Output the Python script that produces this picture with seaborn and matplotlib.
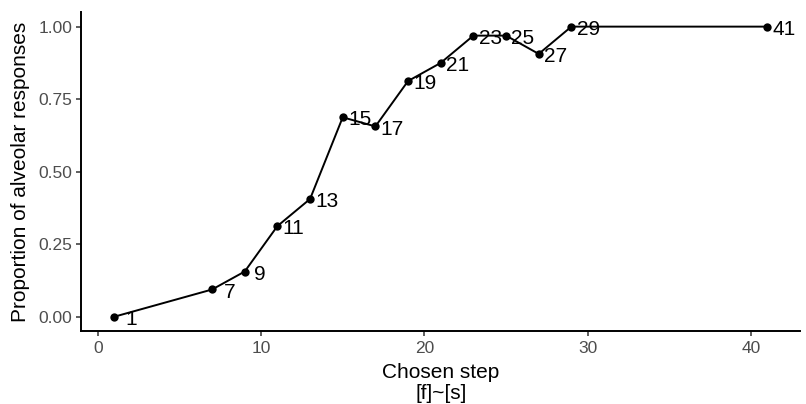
"""
Proportion of alveolar responses by chosen step on the [f]~[s] continuum.
"""

import pandas as pd
import matplotlib
matplotlib.use("Agg")
import matplotlib.pyplot as plt
import seaborn as sns

# data
steps = [1, 7, 9, 11, 13, 15, 17, 19, 21, 23, 25, 27, 29, 41]
proportions = [0.0, 0.094, 0.156, 0.3125, 0.406, 0.6875, 0.656,
               0.8125, 0.875, 0.969, 0.969, 0.906, 1.0, 1.0]
x_ticks = [0, 10, 20, 30, 40]
y_ticks = [0.0, 0.25, 0.5, 0.75, 1.0]
y_tick_labels = ["0.00", "0.25", "0.50", "0.75", "1.00"]

# horizontal label offsets (points) - single digits sit further out
label_dx = [8.4, 8.6, 6.6, 3.8, 3.8, 3.8, 3.8, 3.8, 3.8, 3.8, 3.8, 3.8, 3.8, 3.8]

df = pd.DataFrame({"step": steps, "prop": proportions})

sns.set_theme(style="ticks")
plt.rcParams["font.family"] = ["Liberation Sans", "DejaVu Sans"]

fig = plt.figure(figsize=(8.06, 4.04), dpi=100)
ax = fig.add_axes([0.101, 0.180, 0.8916, 0.790])

sns.lineplot(data=df, x="step", y="prop", color="black", linewidth=1.4,
             marker="o", markersize=6, markeredgewidth=0, ax=ax)

for s, p, dx in zip(steps, proportions, label_dx):
    ax.annotate(str(s), (s, p), xytext=(dx, -5.9), textcoords="offset points",
                ha="left", va="baseline", fontsize=15, color="black")

ax.set_xlim(-1, 43)
ax.set_ylim(-0.05, 1.05)
ax.set_xticks(x_ticks)
ax.set_yticks(y_ticks)
ax.set_yticklabels(y_tick_labels)

for side in ["top", "right"]:
    ax.spines[side].set_visible(False)
for side in ["left", "bottom"]:
    ax.spines[side].set_linewidth(1.4)
    ax.spines[side].set_color("black")

ax.tick_params(axis="both", length=3.6, width=1.1, color="#333333",
               labelcolor="#4D4D4D", labelsize=12.5, pad=3.1)

ax.set_xlabel("Chosen step\n[f]~[s]", fontsize=15, color="black",
              linespacing=1.17, labelpad=5)
ax.set_ylabel("Proportion of alveolar responses", fontsize=15, color="black",
              va="center")
ax.yaxis.set_label_coords(-0.0847, 0.5)

fig.savefig("out.png", dpi=100)
